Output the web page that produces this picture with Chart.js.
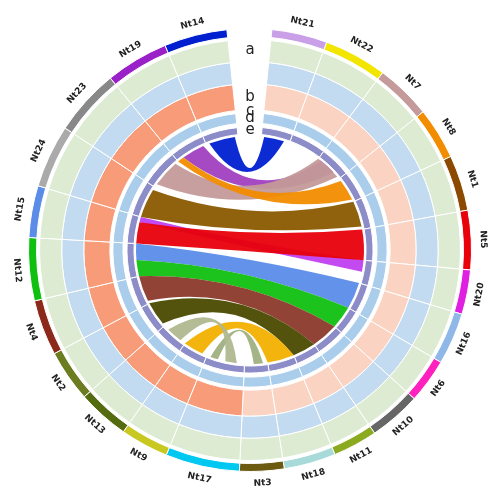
<!DOCTYPE html>
<html><head><meta charset="utf-8">
<script src="https://cdn.jsdelivr.net/npm/chart.js@4.4.0/dist/chart.umd.min.js"></script>
<style>html,body{margin:0;background:#fff}#wrap{width:500px;height:500px}</style>
</head><body><div id="wrap"><canvas id="c"></canvas></div>
<script>
// chromosomes clockwise from the top gap
const chroms = ['Nt21','Nt22','Nt7','Nt8','Nt1','Nt5','Nt20','Nt16','Nt6','Nt10','Nt11','Nt18','Nt3','Nt17','Nt9','Nt13','Nt2','Nt4','Nt12','Nt15','Nt24','Nt23','Nt19','Nt14'];
const sizes = [15,17,15,14,15,16,12,14,12,14,12,14,12,20,13,14,14,15,17,14,17,18,17,17];
const chromColors = ['#c9a0e8','#f2e600','#c49a9a','#f28c00','#8b4a00','#e8000b','#e020e0','#8fb8e8','#ff20c0','#666666','#8caa20','#a8dada','#6b5a10','#00c8f0','#c8c820','#556b10','#6b7d20','#8b2a1a','#10c010','#5a8ce8','#aaaaaa','#888888','#9a20c8','#0020d0'];
const gapSize = 12;
const trackLabels = ['a','b','c','d','e'];
// links: [from chrom, from start..end fraction, to chrom, to start..end fraction, colour]
const links = [
  ['Nt14',0.1,0.9,'Nt21',0.1,0.8,'#0020d0'],
  ['Nt19',0.2,0.9,'Nt7',0.1,0.7,'#a040c0'],
  ['Nt7',0.0,0.9,'Nt23',0.1,0.9,'#c49a9a'],
  ['Nt8',0.1,0.9,'Nt19',0.0,0.2,'#f28c00'],
  ['Nt1',0.0,0.9,'Nt24',0.0,0.9,'#8b5a00'],
  ['Nt20',0.0,0.5,'Nt15',0.8,1.0,'#c040f0'],
  ['Nt5',0.0,1.0,'Nt15',0.0,0.8,'#e8000b'],
  ['Nt16',0.0,1.0,'Nt12',0.5,1.0,'#5a8ce8'],
  ['Nt6',0.0,1.0,'Nt12',0.0,0.5,'#10c010'],
  ['Nt10',0.0,1.0,'Nt4',0.1,1.0,'#8b3a2a'],
  ['Nt11',0.0,1.0,'Nt2',0.1,1.0,'#4a4a00'],
  ['Nt18',0.0,1.0,'Nt9',0.2,1.0,'#f2b000'],
  ['Nt3',0.2,0.6,'Nt17',0.7,0.9,'#a0b080'],
  ['Nt13',0.2,0.8,'Nt17',0.2,0.5,'#b0b890']
];

const data = [gapSize, ...sizes];
const T = 'rgba(0,0,0,0)';
const ring = (col, w, border) => ({
  data, weight: w, borderWidth: border ? 1 : 0, borderColor: '#fff',
  backgroundColor: [T, ...chroms.map((_, i) => typeof col === 'function' ? col(i) : col)]
});
const leftSide = i => i >= 13;
const datasets = [
  ring(i => chromColors[i], 8, true),
  ring(T, 3, false),
  ring('#dcebd2', 22, true),
  ring('#c3dbf0', 22, true),
  ring(i => leftSide(i) ? '#f79b78' : '#fbd3c2', 26, true),
  ring(T, 3, false),
  ring('#a9cdea', 10, true),
  ring(T, 4, false),
  ring('#8c8cc8', 7, true)
];

const decor = {
  id: 'decor',
  afterDatasetsDraw(chart) {
    const ctx = chart.ctx;
    const outer = chart.getDatasetMeta(0).data;
    const inner = chart.getDatasetMeta(datasets.length - 1).data;
    const cx = outer[1].x, cy = outer[1].y;
    const R = inner[1].innerRadius - 2;
    const ang = (name, f) => {
      const a = outer[chroms.indexOf(name) + 1];
      return a.startAngle + (a.endAngle - a.startAngle) * f;
    };
    const pt = a => [cx + R * Math.cos(a), cy + R * Math.sin(a)];
    // control point between the two ends, pulled partly toward the centre
    const ctl = (p, q) => [cx + ((p[0] + q[0]) / 2 - cx) * 0.45, cy + ((p[1] + q[1]) / 2 - cy) * 0.45];
    links.forEach(l => {
      const a1 = ang(l[0], l[1]), a2 = ang(l[0], l[2]);
      const b1 = ang(l[3], l[4]), b2 = ang(l[3], l[5]);
      ctx.save();
      ctx.globalAlpha = 0.95;
      ctx.fillStyle = l[6];
      ctx.beginPath();
      ctx.arc(cx, cy, R, a1, a2);
      let p = pt(b1), c = ctl(pt(a2), p);
      ctx.quadraticCurveTo(c[0], c[1], p[0], p[1]);
      ctx.arc(cx, cy, R, b1, b2);
      p = pt(a1); c = ctl(pt(b2), p);
      ctx.quadraticCurveTo(c[0], c[1], p[0], p[1]);
      ctx.closePath();
      ctx.fill();
      ctx.restore();
    });
    // chromosome names
    ctx.save();
    ctx.font = 'bold 9px "DejaVu Sans"';
    ctx.fillStyle = '#222';
    ctx.textAlign = 'center';
    ctx.textBaseline = 'middle';
    chroms.forEach((n, i) => {
      const a = outer[i + 1];
      const m = (a.startAngle + a.endAngle) / 2;
      const r = a.outerRadius + 12;
      ctx.save();
      ctx.translate(cx + r * Math.cos(m), cy + r * Math.sin(m));
      let rot = m + Math.PI / 2;
      const norm = ((rot % (2 * Math.PI)) + 2 * Math.PI) % (2 * Math.PI);
      if (norm > Math.PI / 2 && norm < 3 * Math.PI / 2) rot += Math.PI;
      ctx.rotate(rot);
      ctx.fillText(n, 0, 0);
      ctx.restore();
    });
    // track letters in the top gap
    ctx.font = '15px "DejaVu Sans"';
    const rs = [2, 4, 5, 6, 8].map(k => {
      const e = chart.getDatasetMeta(k).data[1];
      return (e.innerRadius + e.outerRadius) / 2;
    });
    trackLabels.forEach((t, k) => ctx.fillText(t, cx, cy - rs[k]));
    ctx.restore();
  }
};

new Chart(document.getElementById('c'), {
  type: 'doughnut',
  data: { labels: ['gap', ...chroms], datasets },
  options: {
    responsive: true, maintainAspectRatio: false, animation: false,
    rotation: -gapSize / 2, cutout: 116,
    layout: { padding: 28 },
    plugins: { legend: { display: false }, tooltip: { enabled: false } }
  },
  plugins: [decor]
});
</script></body></html>
